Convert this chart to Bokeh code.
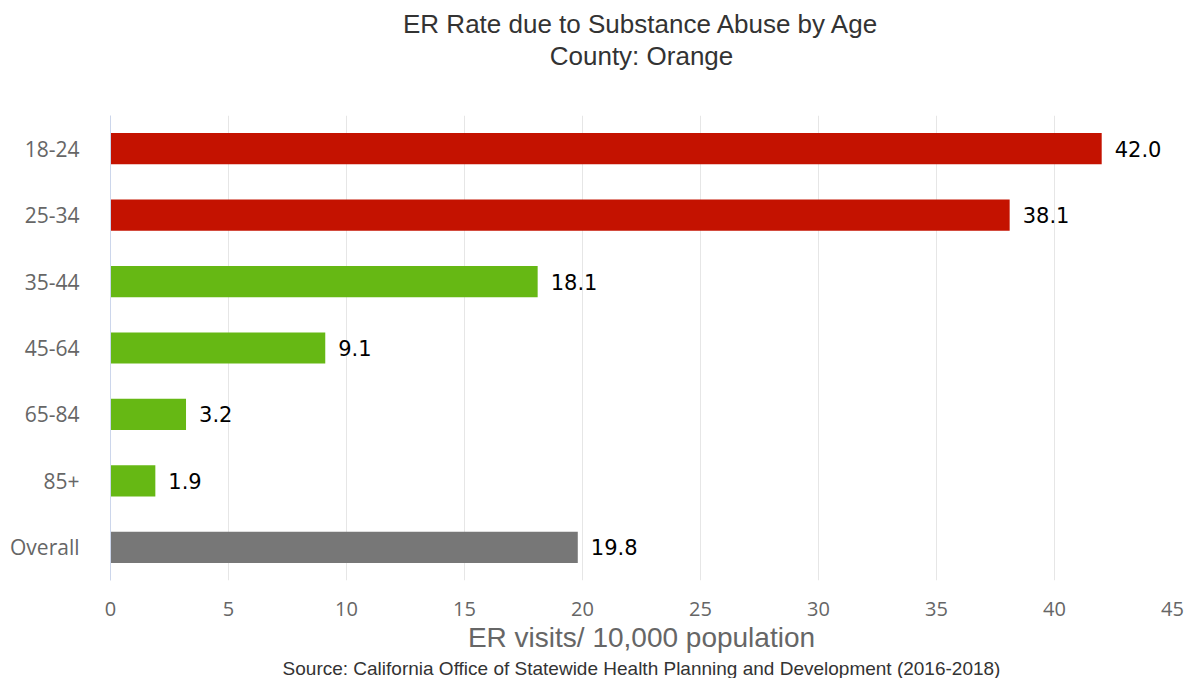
from bokeh.plotting import figure
from bokeh.models import ColumnDataSource, FactorRange, Range1d, FixedTicker, LabelSet, Title
from bokeh.embed import file_html
from bokeh.resources import INLINE
from bokeh.core.properties import value

categories = ["18-24", "25-34", "35-44", "45-64", "65-84", "85+", "Overall"]
rates = [42.0, 38.1, 18.1, 9.1, 3.2, 1.9, 19.8]
bar_colors = ["#C41200", "#C41200", "#66B814", "#66B814", "#66B814", "#66B814", "#777777"]
x_ticks = [0, 5, 10, 15, 20, 25, 30, 35, 40, 45]

src = ColumnDataSource(dict(cat=categories, rate=rates, color=bar_colors,
                            label=[f"{v:.1f}" for v in rates]))

p = figure(y_range=FactorRange(*reversed(categories)), x_range=Range1d(0, 45),
           frame_width=1062, frame_height=465, output_backend="svg", toolbar_location=None,
           min_border_left=110, min_border_right=21, min_border_top=0, min_border_bottom=0,
           title=" ")

# outermost (top) spacer
p.title.text_font_size = "1px"
p.title.standoff = 3

TFONT = "Liberation Sans"

# panels above the frame: first added sits closest to the plot area
inner_spacer = Title(text=" ", text_font_size="1px", standoff=42)
subtitle = Title(text="County: Orange", align="center", text_font=TFONT,
                 text_font_size="26px", text_font_style="normal", text_color="#333333",
                 standoff=0)
main_title = Title(text="ER Rate due to Substance Abuse by Age", align="center",
                   text_font=TFONT, text_font_size="26px", text_font_style="normal",
                   text_color="#333333", standoff=0)
p.add_layout(inner_spacer, "above")
p.add_layout(subtitle, "above")
p.add_layout(main_title, "above")

p.hbar(y="cat", right="rate", left=0, height=0.47, color="color", source=src, line_color=None)

labels = LabelSet(x="rate", y="cat", text="label", source=src, x_offset=13,
                  text_baseline="middle", text_font=value("DejaVu Sans"),
                  text_font_size="21px", text_color="#000000")
p.add_layout(labels)

p.xaxis.ticker = FixedTicker(ticks=x_ticks)
p.xaxis.axis_line_color = None
p.xaxis.major_tick_line_color = None
p.xaxis.minor_tick_line_color = None
p.xaxis.major_label_text_font = "Open Sans"
p.xaxis.major_label_text_font_size = "20px"
p.xaxis.major_label_text_color = "#666666"
p.xaxis.major_label_standoff = 15
p.xaxis.axis_label = "ER visits/ 10,000 population"
p.xaxis.axis_label_text_font = TFONT
p.xaxis.axis_label_text_font_size = "28px"
p.xaxis.axis_label_text_font_style = "normal"
p.xaxis.axis_label_text_color = "#666666"
p.xaxis.axis_label_standoff = 3

p.yaxis.axis_line_color = "#ccd6eb"
p.yaxis.major_tick_line_color = None
p.yaxis.minor_tick_line_color = None
p.yaxis.major_label_text_font = "Open Sans"
p.yaxis.major_label_text_font_size = "21px"
p.yaxis.major_label_text_color = "#666666"
p.yaxis.major_label_standoff = 25

p.ygrid.grid_line_color = None
p.xgrid.grid_line_color = "#e6e6e6"
p.outline_line_color = None

source_note = Title(text="Source: California Office of Statewide Health Planning and Development (2016-2018)",
                    align="center", text_font=TFONT, text_font_size="19px",
                    text_font_style="normal", text_color="#333333", standoff=0)
p.add_layout(source_note, "below")

open("out.html", "w").write(file_html(p, INLINE))
